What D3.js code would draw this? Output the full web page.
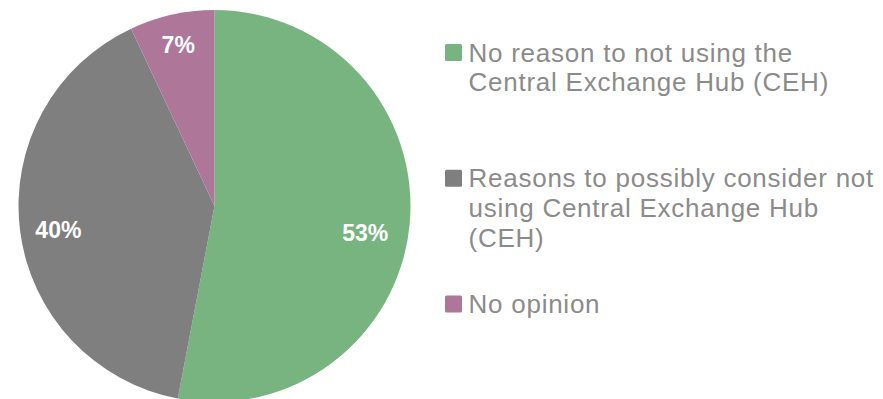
<!DOCTYPE html>
<html>
<head>
<meta charset="utf-8">
<script src="https://cdn.jsdelivr.net/npm/d3@7"></script>
<style>
  html, body { margin: 0; padding: 0; background: #ffffff; }
  svg { display: block; }
</style>
</head>
<body>
<svg id="chart" width="883" height="399"></svg>
<script>
// Survey answers: share of respondents per answer
const categories = [
  "No reason to not using the Central Exchange Hub (CEH)",
  "Reasons to possibly consider not using Central Exchange Hub (CEH)",
  "No opinion"
];
const legendLines = [
  ["No reason to not using the", "Central Exchange Hub (CEH)"],
  ["Reasons to possibly consider not", "using Central Exchange Hub", "(CEH)"],
  ["No opinion"]
];
const values = [53, 40, 7];
const colors = ["#77b480", "#7f7f7f", "#ae7698"];

const svg = d3.select("#chart");
const cx = 214.5, cy = 206, radius = 196;

const pie = d3.pie().sort(null).value(d => d)(values);
const arc = d3.arc().innerRadius(0).outerRadius(radius);
const labelArc = d3.arc().innerRadius(radius * 0.79).outerRadius(radius * 0.79);
// small best-fit style shifts of the percentage labels, per slice
const labelShift = [[-3.5, 12], [-2.5, 4.5], [-2.5, -10.5]];

const g = svg.append("g").attr("transform", `translate(${cx},${cy})`);

g.selectAll("path.slice")
  .data(pie)
  .join("path")
  .attr("class", "slice")
  .attr("d", arc)
  .attr("fill", (d, i) => colors[i]);

g.selectAll("text.pct")
  .data(pie)
  .join("text")
  .attr("class", "pct")
  .attr("transform", (d, i) => {
    const [x, y] = labelArc.centroid(d);
    return `translate(${x + labelShift[i][0]},${y + labelShift[i][1]})`;
  })
  .attr("text-anchor", "middle")
  .attr("dy", "0.36em")
  .attr("fill", "#ffffff")
  .attr("font-family", "'Liberation Sans', Arial, sans-serif")
  .attr("font-weight", "bold")
  .attr("font-size", 23)
  .text(d => d.data + "%");

// Legend: one slot per entry, wrapped lines
const legendX = 445, firstBaseline = 61.5, slot = 125.7, lineH = 29.8, sq = 17;
const legend = svg.append("g");
legendLines.forEach((lines, i) => {
  const base = firstBaseline + i * slot;
  legend.append("rect")
    .attr("x", legendX)
    .attr("y", base - sq - 0.5)
    .attr("width", sq)
    .attr("height", sq)
    .attr("rx", 1.5)
    .attr("fill", colors[i]);
  const t = legend.append("text")
    .attr("font-family", "'Liberation Sans', Arial, sans-serif")
    .attr("font-size", 26)
    .attr("letter-spacing", 0.75)
    .attr("fill", "#8b8b8b");
  lines.forEach((ln, j) => {
    t.append("tspan")
      .attr("x", legendX + 23.5)
      .attr("y", base + j * lineH)
      .text(ln);
  });
});
</script>
</body>
</html>
